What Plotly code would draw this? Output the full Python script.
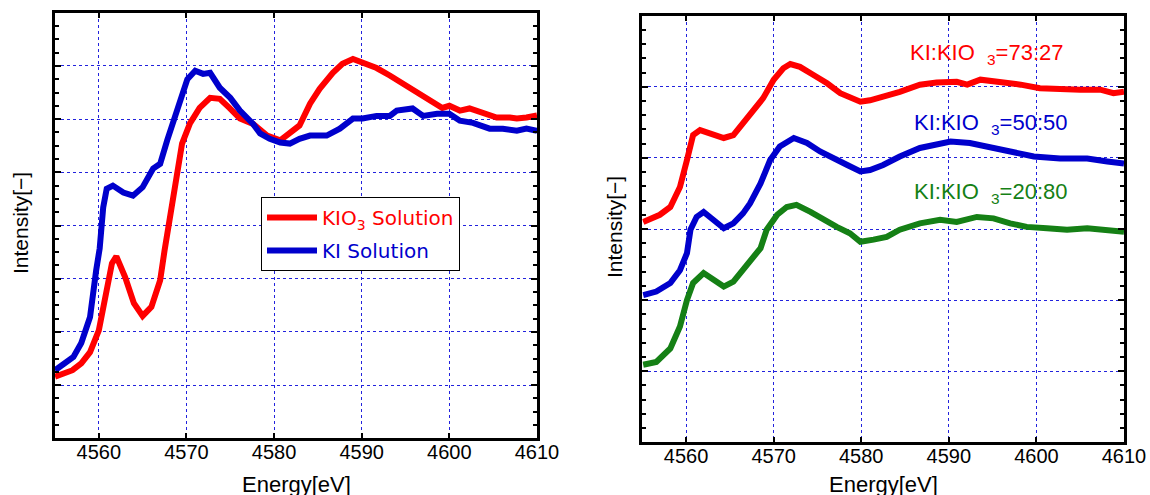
import plotly.graph_objects as go

# ---------------- data: left panel ----------------
kio3_E = [4555.0, 4557.0, 4558.0, 4559.0, 4560.0, 4561.0, 4561.5, 4562.0, 4563.0, 4564.0,
          4565.0, 4566.0, 4567.0, 4567.5, 4568.4, 4569.5, 4570.4, 4571.5, 4572.7, 4573.8,
          4574.9, 4576.1, 4577.6, 4579.2, 4580.7, 4581.8, 4582.9, 4584.1, 4585.2, 4586.7,
          4587.8, 4589.0, 4590.1, 4591.7, 4593.2, 4594.7, 4596.3, 4597.8, 4599.2, 4600.0,
          4601.2, 4602.3, 4603.8, 4605.4, 4606.9, 4607.7, 4608.8, 4610.0]
kio3_I = [1.16, 1.28, 1.41, 1.62, 2.03, 2.91, 3.29, 3.42, 3.03, 2.54,
          2.30, 2.47, 2.97, 3.53, 4.47, 5.54, 5.92, 6.21, 6.40, 6.38,
          6.21, 6.01, 5.91, 5.69, 5.60, 5.73, 5.88, 6.29, 6.57, 6.87,
          7.04, 7.13, 7.06, 6.96, 6.82, 6.67, 6.50, 6.35, 6.21, 6.25,
          6.16, 6.20, 6.12, 6.03, 6.03, 6.01, 6.03, 6.07]

ki_E = [4555.0, 4555.9, 4557.1, 4558.0, 4559.0, 4559.7, 4560.1, 4560.5, 4560.9, 4561.6,
        4562.8, 4563.9, 4565.0, 4566.2, 4567.0, 4567.8, 4568.5, 4569.5, 4570.1, 4571.0,
        4571.9, 4572.7, 4573.8, 4575.0, 4576.1, 4577.6, 4578.4, 4579.5, 4580.7, 4581.8,
        4582.9, 4584.1, 4586.0, 4587.5, 4589.0, 4590.1, 4591.7, 4593.2, 4594.0, 4595.8,
        4597.0, 4598.6, 4600.0, 4601.2, 4602.7, 4604.6, 4606.1, 4607.7, 4608.8, 4610.0]
ki_I = [1.28, 1.38, 1.53, 1.79, 2.28, 3.16, 3.57, 4.34, 4.69, 4.75,
        4.62, 4.56, 4.72, 5.07, 5.16, 5.60, 5.97, 6.48, 6.75, 6.91,
        6.85, 6.87, 6.59, 6.40, 6.16, 5.91, 5.73, 5.63, 5.56, 5.54,
        5.63, 5.69, 5.69, 5.82, 6.01, 6.01, 6.06, 6.06, 6.16, 6.20,
        6.06, 6.10, 6.10, 5.97, 5.93, 5.82, 5.82, 5.78, 5.82, 5.78]

# ---------------- data: right panel ----------------
mix73_E = [4555.1, 4557.0, 4558.2, 4559.3, 4560.1, 4560.8, 4561.6, 4562.7, 4564.3, 4565.4,
           4566.5, 4567.7, 4568.8, 4570.0, 4571.1, 4571.9, 4573.0, 4574.5, 4576.1, 4577.6,
           4578.7, 4579.9, 4581.0, 4582.2, 4584.4, 4586.7, 4588.6, 4590.9, 4592.1, 4593.6,
           4595.9, 4598.2, 4600.4, 4602.7, 4605.0, 4607.3, 4608.8, 4610.0]
mix73_I = [3.10, 3.20, 3.31, 3.59, 3.97, 4.32, 4.39, 4.35, 4.28, 4.32,
           4.49, 4.67, 4.84, 5.10, 5.26, 5.32, 5.28, 5.17, 5.05, 4.91,
           4.86, 4.79, 4.81, 4.85, 4.93, 5.03, 5.06, 5.07, 5.03, 5.10,
           5.07, 5.03, 4.98, 4.96, 4.96, 4.96, 4.91, 4.93]

mix50_E = [4555.1, 4556.6, 4558.2, 4559.3, 4560.1, 4560.5, 4561.2, 4562.0, 4563.1, 4564.3,
           4565.4, 4566.5, 4567.3, 4568.5, 4569.6, 4570.7, 4572.3, 4573.8, 4575.3, 4576.8,
           4578.4, 4579.9, 4581.0, 4582.5, 4584.4, 4586.7, 4589.0, 4590.2, 4592.4, 4595.1,
           4597.0, 4599.7, 4602.7, 4605.8, 4608.1, 4610.0]
mix50_I = [2.07, 2.12, 2.24, 2.42, 2.66, 2.99, 3.17, 3.24, 3.13, 3.01,
           3.08, 3.22, 3.36, 3.64, 3.97, 4.16, 4.28, 4.21, 4.09, 3.99,
           3.90, 3.81, 3.83, 3.90, 4.02, 4.14, 4.21, 4.23, 4.21, 4.14,
           4.09, 4.02, 3.99, 3.99, 3.95, 3.92]

mix20_E = [4555.1, 4556.6, 4558.2, 4559.3, 4560.1, 4560.8, 4562.0, 4563.1, 4564.3, 4565.4,
           4566.5, 4567.7, 4568.5, 4569.2, 4570.4, 4571.5, 4572.6, 4574.2, 4575.7, 4577.2,
           4578.7, 4579.9, 4581.4, 4582.9, 4584.4, 4586.7, 4589.0, 4590.9, 4593.2, 4595.1,
           4597.0, 4598.9, 4601.2, 4603.5, 4605.8, 4608.1, 4610.0]
mix20_I = [1.09, 1.13, 1.32, 1.63, 2.00, 2.24, 2.38, 2.28, 2.19, 2.26,
           2.42, 2.59, 2.73, 2.99, 3.20, 3.31, 3.34, 3.24, 3.13, 3.03,
           2.94, 2.82, 2.85, 2.89, 2.99, 3.08, 3.13, 3.10, 3.17, 3.15,
           3.08, 3.03, 3.01, 2.99, 3.01, 2.99, 2.96]

x_ticks = [4560, 4570, 4580, 4590, 4600, 4610]
mix_labels = ["KI:KIO&nbsp;&nbsp;<sub>3</sub>=73:27",
              "KI:KIO&nbsp;&nbsp;<sub>3</sub>=50:50",
              "KI:KIO&nbsp;&nbsp;<sub>3</sub>=20:80"]
mix_label_pos = [(4594.4, 5.46), (4594.8, 4.48), (4594.8, 3.50)]

RED = "#ff0000"
BLUE = "#0000cc"
GREEN = "#158015"
FONT = "Liberation Sans"
LFONT = "DejaVu Sans"
GRID = "#2222dd"

fig = go.Figure()
LW = 6
fig.add_trace(go.Scatter(x=kio3_E, y=kio3_I, mode="lines", line=dict(color=RED, width=LW),
                         name='<span style="color:#ff0000">KIO<sub>3</sub> Solution</span>',
                         legendgroup="a", xaxis="x", yaxis="y"))
fig.add_trace(go.Scatter(x=ki_E, y=ki_I, mode="lines", line=dict(color=BLUE, width=LW),
                         name='<span style="color:#0000cc">KI Solution</span>',
                         legendgroup="b", xaxis="x", yaxis="y"))
for E, I, c in [(mix73_E, mix73_I, RED), (mix50_E, mix50_I, BLUE), (mix20_E, mix20_I, GREEN)]:
    fig.add_trace(go.Scatter(x=E, y=I, mode="lines", line=dict(color=c, width=LW),
                             showlegend=False, xaxis="x2", yaxis="y2"))

W, H = 1150, 495
def px_x(a, b):
    return [a / W, b / W]
def px_y(top, bottom):
    return [1 - bottom / H, 1 - top / H]

xcommon = dict(range=[4555, 4610], tickvals=x_ticks, ticks="inside", ticklen=6, tickwidth=2,
               tickcolor="black", showline=True, linecolor="black", linewidth=2.5,
               mirror="allticks", showgrid=True, gridcolor=GRID, griddash="dot", gridwidth=1,
               zeroline=False, tickfont=dict(family=FONT, size=20, color="black"),
               ticklabelstandoff=-6, automargin=False)
ycommon = dict(ticks="inside", ticklen=6, tickwidth=2, tickcolor="black", showline=True,
               linecolor="black", linewidth=2.5, mirror="allticks", showgrid=True,
               gridcolor=GRID, griddash="dot", gridwidth=1, zeroline=False,
               showticklabels=False, automargin=False)

fig.update_layout(
    width=W, height=H, margin=dict(l=0, r=0, t=0, b=0, autoexpand=False),
    paper_bgcolor="white", plot_bgcolor="white",
    font=dict(family=FONT, size=18, color="black"),
    xaxis=dict(domain=px_x(55, 537), anchor="y", **xcommon),
    yaxis=dict(domain=px_y(12.7, 438.3), anchor="x", range=[0, 8], dtick=1, tick0=0,
               minor=dict(dtick=0.25, ticks="inside", ticklen=4, tickwidth=1.5,
                          tickcolor="black", showgrid=False), **ycommon),
    xaxis2=dict(domain=px_x(642.3, 1124), anchor="y2", **xcommon),
    yaxis2=dict(domain=px_y(15.7, 442.3), anchor="x2", range=[0, 6], dtick=1, tick0=0,
                minor=dict(dtick=0.2, ticks="inside", ticklen=4, tickwidth=1.5,
                           tickcolor="black", showgrid=False), **ycommon),
    legend=dict(x=261 / W, y=1 - 197 / H, xanchor="left", yanchor="top",
                bgcolor="white", bordercolor="black", borderwidth=1,
                font=dict(family=LFONT, size=20), itemwidth=50, tracegroupgap=4),
    showlegend=True,
)

annos = []
# axis titles
for cx, cy in [((55 + 537) / 2, 484), ((642.3 + 1124) / 2, 484)]:
    annos.append(dict(text="Energy[eV]", x=cx / W, y=1 - cy / H, xref="paper", yref="paper",
                      showarrow=False, font=dict(family=FONT, size=22, color="black"),
                      xanchor="center", yanchor="middle"))
for cx, cy in [(20, 223), (614, 227)]:
    annos.append(dict(text="Intensity[−]", x=cx / W, y=1 - cy / H, xref="paper", yref="paper",
                      showarrow=False, textangle=-90, font=dict(family=FONT, size=21, color="black"),
                      xanchor="center", yanchor="middle"))
for txt, (ex, iy), c in zip(mix_labels, mix_label_pos, [RED, BLUE, GREEN]):
    annos.append(dict(text=txt, x=ex, y=iy, xref="x2", yref="y2", showarrow=False,
                      font=dict(family=FONT, size=22, color=c), xanchor="center", yanchor="middle"))
fig.update_layout(annotations=annos)

fig.write_html("out.html")
